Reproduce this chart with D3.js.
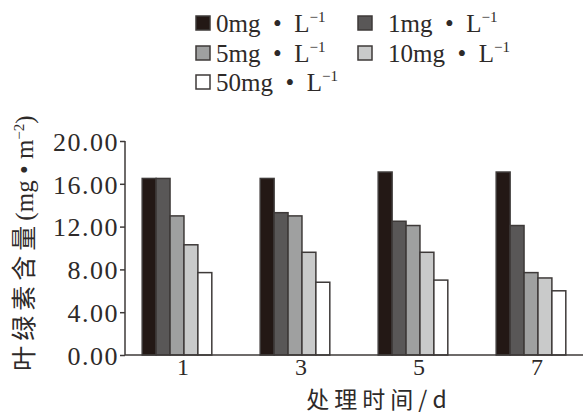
<!DOCTYPE html>
<html>
<head>
<meta charset="utf-8">
<script src="https://cdn.jsdelivr.net/npm/d3@7"></script>
<style>
  body { margin: 0; background: #fff; }
  text { font-family: "Liberation Serif", "Noto Sans CJK SC", serif; fill: #2e2a29; }
  .cjk { font-family: "Noto Sans CJK SC", sans-serif; }
</style>
</head>
<body>
<div id="chart"></div>
<script>
// data
var days = ["1", "3", "5", "7"];
var series = ["0mg", "1mg", "5mg", "10mg", "50mg"];
var v0mg = [16.5, 16.5, 17.1, 17.1];
var v1mg = [16.5, 13.3, 12.5, 12.1];
var v5mg = [13.0, 13.0, 12.1, 7.7];
var v10mg = [10.3, 9.6, 9.6, 7.2];
var v50mg = [7.7, 6.8, 7.0, 6.0];
var yTicks = [0, 4, 8, 12, 16, 20];
var colors = ["#231815", "#595757", "#9fa0a0", "#c9caca", "#ffffff"];

var allValues = [v0mg, v1mg, v5mg, v10mg, v50mg];

var W = 583, H = 414;
var svg = d3.select("#chart").append("svg")
    .attr("width", W)
    .attr("height", H);

// scales
var x0 = d3.scaleBand()
    .domain(days)
    .range([118, 590])
    .paddingInner(0.41)
    .paddingOuter(0.205);

var x1 = d3.scaleBand()
    .domain(series)
    .range([0, x0.bandwidth()]);

var y = d3.scaleLinear()
    .domain([0, 20])
    .range([355, 141]);

// bars
var groups = svg.selectAll(".grp")
    .data(days)
    .enter().append("g")
    .attr("class", "grp")
    .attr("transform", function (d) { return "translate(" + x0(d) + ",0)"; });

groups.selectAll("rect")
    .data(function (d, i) {
        return series.map(function (s, j) { return { s: s, v: allValues[j][i], c: colors[j] }; });
    })
    .enter().append("rect")
    .attr("x", function (d) { return x1(d.s); })
    .attr("y", function (d) { return y(d.v); })
    .attr("width", x1.bandwidth())
    .attr("height", function (d) { return y(0) - y(d.v); })
    .style("fill", function (d) { return d.c; })
    .style("stroke", "#3e3a39")
    .style("stroke-width", 1.5);

// y axis
var yAxis = svg.append("g")
    .attr("transform", "translate(125,0)")
    .call(d3.axisLeft(y).tickValues(yTicks).tickSize(5).tickFormat(d3.format(".2f")));
yAxis.select(".domain").remove();
yAxis.append("line")
    .attr("x1", 0).attr("x2", 0)
    .attr("y1", y(20)).attr("y2", y(0))
    .attr("stroke", "#3e3a39").attr("stroke-width", 1.5);
yAxis.selectAll(".tick line").attr("stroke", "#3e3a39").attr("stroke-width", 1.5);
yAxis.selectAll(".tick text")
    .attr("x", -6)
    .attr("dy", "0.36em")
    .style("font-size", "26px")
    .style("letter-spacing", "1.5px")
    .style("font-family", "Liberation Serif")
    .style("fill", "#2e2a29");

// x axis
var xAxis = svg.append("g")
    .attr("transform", "translate(0," + y(0) + ")")
    .call(d3.axisBottom(x0).tickSize(0).tickPadding(3));
xAxis.select(".domain").remove();
xAxis.append("line")
    .attr("x1", 125).attr("x2", W)
    .attr("stroke", "#3e3a39").attr("stroke-width", 1.5);
xAxis.selectAll(".tick")
    .attr("transform", function (d) { return "translate(" + (x0(d) + x0.bandwidth() / 2 + 6) + ",0)"; });
xAxis.selectAll(".tick text")
    .style("font-size", "24px")
    .style("font-family", "Liberation Serif")
    .style("fill", "#2e2a29");

// axis titles
svg.append("text")
    .attr("class", "cjk")
    .attr("x", 379).attr("y", 408)
    .attr("text-anchor", "middle")
    .style("font-size", "23px")
    .style("letter-spacing", "5px")
    .text("处理时间/d");

var yt = svg.append("text")
    .attr("transform", "translate(33,243) rotate(-90)")
    .attr("text-anchor", "middle")
    .style("font-size", "25px");
yt.append("tspan").attr("class", "cjk").style("letter-spacing", "5px").text("叶绿素含量");
yt.append("tspan").text("(mg • m");
yt.append("tspan").attr("dy", -9).style("font-size", "15px").text("−2");
yt.append("tspan").attr("dy", 9).text(")");

// legend
var legendPos = [[196, 16], [358, 16], [196, 46], [358, 46], [196, 75]];
var leg = svg.selectAll(".leg")
    .data(series)
    .enter().append("g")
    .attr("class", "leg")
    .attr("transform", function (d, i) { return "translate(" + legendPos[i][0] + "," + legendPos[i][1] + ")"; });

leg.append("rect")
    .attr("width", 14).attr("height", 14)
    .style("fill", function (d, i) { return colors[i]; })
    .style("stroke", "#3e3a39")
    .style("stroke-width", 1.5);

var lt = leg.append("text")
    .attr("x", function (d, i) { return i % 2 === 1 ? 30 : 20; })
    .attr("y", 16)
    .style("font-size", "25px");
lt.append("tspan").text(function (d) { return d + "\u2002•\u2002L"; });
lt.append("tspan").attr("dy", -10).style("font-size", "15px").text("−1");
</script>
</body>
</html>
